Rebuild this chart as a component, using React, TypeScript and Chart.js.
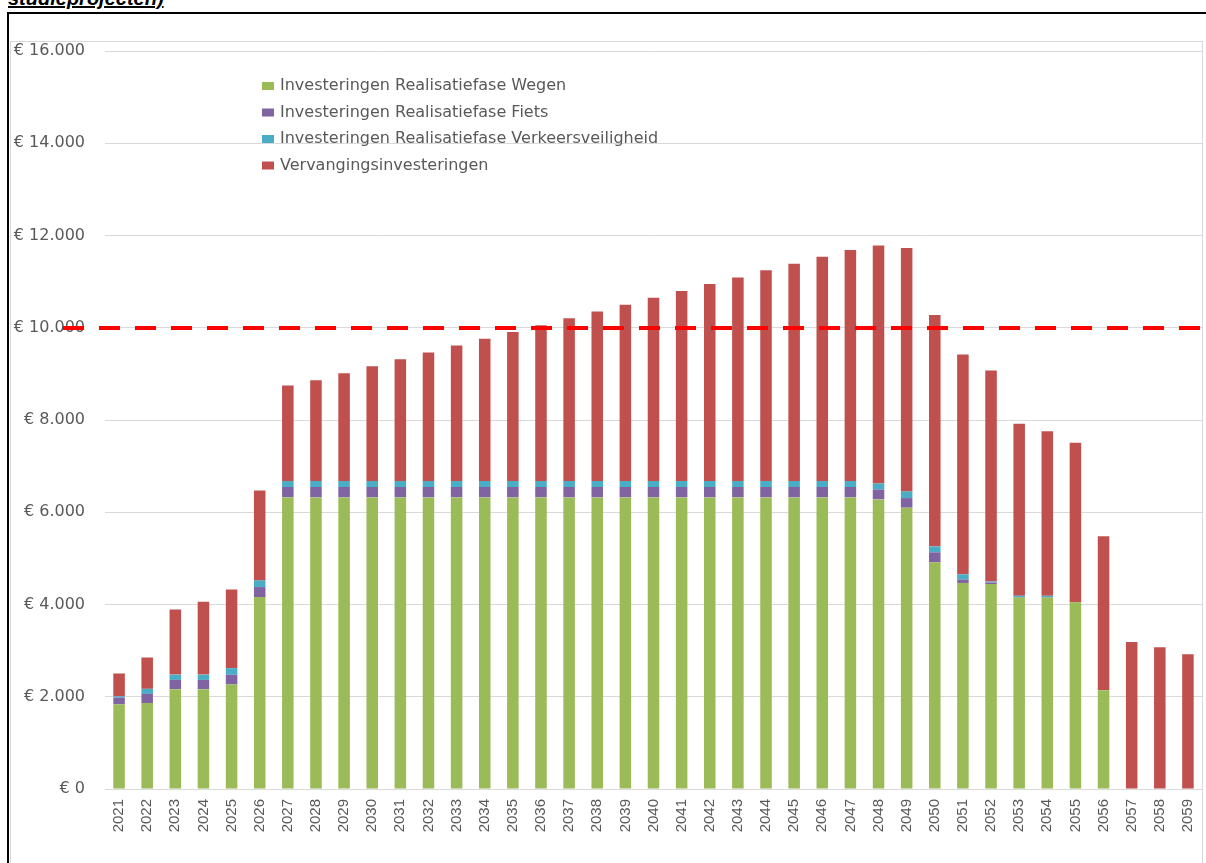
import React, { useEffect, useRef } from "react";
import { Chart, registerables } from "chart.js";

Chart.register(...registerables);

const years = [
  "2021", "2022", "2023", "2024", "2025", "2026", "2027", "2028", "2029", "2030",
  "2031", "2032", "2033", "2034", "2035", "2036", "2037", "2038", "2039", "2040",
  "2041", "2042", "2043", "2044", "2045", "2046", "2047", "2048", "2049", "2050",
  "2051", "2052", "2053", "2054", "2055", "2056", "2057", "2058", "2059",
];

const wegen = [
  1834, 1862, 2165, 2165, 2266, 4163, 6322, 6322, 6322, 6322,
  6322, 6322, 6322, 6322, 6322, 6322, 6322, 6322, 6322, 6322,
  6322, 6322, 6322, 6322, 6322, 6322, 6322, 6279, 6099, 4915,
  4467, 4445, 4150, 4150, 4049, 2143, 0, 0, 0,
];

const fiets = [
  150, 200, 200, 200, 210, 215, 225, 225, 225, 225,
  225, 225, 225, 225, 225, 225, 225, 225, 225, 225,
  225, 225, 225, 225, 225, 225, 225, 215, 208, 216,
  73, 30, 10, 10, 0, 0, 0, 0, 0,
];

const verkeersveiligheid = [
  28, 110, 115, 115, 145, 145, 130, 130, 130, 130,
  130, 130, 130, 130, 130, 130, 130, 130, 130, 130,
  130, 130, 130, 130, 130, 130, 130, 130, 145, 130,
  115, 22, 30, 30, 0, 0, 0, 0, 0,
];

const vervanging = [
  492, 679, 1414, 1581, 1703, 1948, 2070, 2185, 2337, 2488,
  2640, 2784, 2936, 3087, 3232, 3376, 3527, 3674, 3824, 3975,
  4120, 4272, 4415, 4567, 4711, 4863, 5008, 5161, 5276, 5016,
  4763, 4575, 3727, 3568, 3457, 3335, 3189, 3074, 2923,
];

const seriesLabels = [
  "Investeringen Realisatiefase Wegen",
  "Investeringen Realisatiefase Fiets",
  "Investeringen Realisatiefase Verkeersveiligheid",
  "Vervangingsinvesteringen",
];

const seriesColors = ["#9BBB59", "#8064A2", "#4BACC6", "#C0504D"];

const threshold = 10000;
const yMin = 0;
const yMax = 16000;
const yStep = 2000;

const titleText = "studieprojecten)";

function formatEuro(v: number): string {
  const s = Math.round(v).toString().replace(/\B(?=(\d{3})+(?!\d))/g, ".");
  return "€ " + s;
}

const legendPlugin = {
  id: "customLegend",
  afterDraw(chart: any) {
    const { ctx, chartArea } = chart;
    ctx.save();
    ctx.font = '16px "DejaVu Sans", sans-serif';
    ctx.textBaseline = "middle";
    ctx.textAlign = "left";
    const boxX = chartArea.left + 157;
    const textX = chartArea.left + 175;
    const y0 = chartArea.top + 35;
    const dy = 26.5;
    seriesLabels.forEach((label, i) => {
      const y = y0 + i * dy;
      ctx.fillStyle = seriesColors[i];
      ctx.fillRect(boxX, y - 4, 12, 8);
      ctx.fillStyle = "#595959";
      ctx.fillText(label, textX, y);
    });
    ctx.restore();
  },
};

const thresholdPlugin = {
  id: "thresholdLine",
  afterDatasetsDraw(chart: any) {
    const { ctx, chartArea, scales } = chart;
    const y = Math.round(scales.y.getPixelForValue(threshold));
    ctx.save();
    ctx.strokeStyle = "#FF0000";
    ctx.lineWidth = 4;
    ctx.setLineDash([21, 15]);
    ctx.beginPath();
    ctx.moveTo(chartArea.left - 42, y);
    ctx.lineTo(chartArea.right, y);
    ctx.stroke();
    ctx.restore();
  },
};

export default function App() {
  const canvasRef = useRef<HTMLCanvasElement | null>(null);

  useEffect(() => {
    const canvas = canvasRef.current;
    if (!canvas) return;
    const datasets = [wegen, fiets, verkeersveiligheid, vervanging].map((data, i) => ({
      label: seriesLabels[i],
      data,
      backgroundColor: seriesColors[i],
      borderWidth: 0,
      categoryPercentage: 1,
      barPercentage: 0.41,
    }));
    const chart = new Chart(canvas, {
      type: "bar",
      data: { labels: years, datasets },
      options: {
        responsive: false,
        animation: false,
        devicePixelRatio: 1,
        layout: { padding: { top: 51, right: 4, left: 0, bottom: 0 } },
        plugins: {
          legend: { display: false },
          tooltip: { enabled: false },
          title: { display: false },
        },
        scales: {
          x: {
            stacked: true,
            grid: { display: false, drawTicks: false },
            border: { display: false },
            ticks: {
              minRotation: 90,
              maxRotation: 90,
              autoSkip: false,
              padding: 10,
              color: "#595959",
              font: { family: '"Liberation Sans", Arial, sans-serif', size: 15 },
            },
            afterFit(scale: any) {
              scale.height = 74;
              scale.paddingLeft = 0;
              scale.paddingRight = 0;
            },
          },
          y: {
            stacked: true,
            min: yMin,
            max: yMax,
            grid: { color: "#D9D9D9", lineWidth: 1, drawTicks: false },
            border: { display: false },
            ticks: {
              stepSize: yStep,
              padding: 20,
              color: "#595959",
              font: { family: '"DejaVu Sans", sans-serif', size: 16 },
              callback: (v: any) => formatEuro(Number(v)),
            },
            afterFit(scale: any) {
              scale.width = 105;
              scale.paddingTop = 0;
              scale.paddingBottom = 0;
            },
          },
        },
      },
      plugins: [thresholdPlugin, legendPlugin],
    });
    return () => chart.destroy();
  }, []);

  return (
    <div
      style={{
        position: "absolute",
        left: 0,
        top: 0,
        width: 1206,
        height: 863,
        overflow: "hidden",
        background: "#fff",
      }}
    >
      <div
        style={{
          position: "absolute",
          left: 8,
          top: -12,
          fontFamily: '"Liberation Sans", Arial, sans-serif',
          fontSize: 20,
          lineHeight: "20px",
          fontStyle: "italic",
          fontWeight: "bold",
          textDecoration: "underline",
          color: "#000",
          whiteSpace: "nowrap",
        }}
      >
        {titleText}
      </div>
      <div
        style={{
          position: "absolute",
          left: 7,
          top: 12,
          width: 1300,
          height: 1000,
          boxSizing: "border-box",
          borderTop: "2px solid #000",
          borderLeft: "2px solid #000",
        }}
      />
      <div
        style={{
          position: "absolute",
          left: 10,
          top: 41,
          width: 1193,
          height: 1000,
          boxSizing: "border-box",
          border: "1px solid #D9D9D9",
        }}
      />
      <canvas
        ref={canvasRef}
        width={1206}
        height={863}
        style={{ position: "absolute", left: 0, top: 0, width: 1206, height: 863 }}
      />
    </div>
  );
}
